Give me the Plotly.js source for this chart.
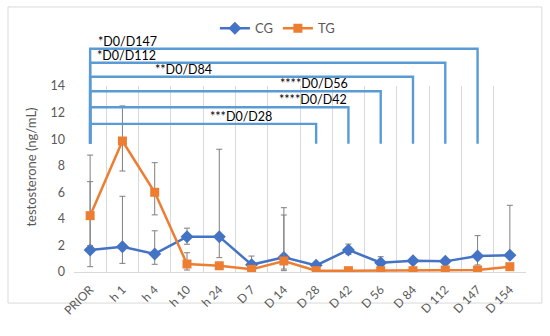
<!DOCTYPE html>
<html>
<head>
<meta charset="utf-8">
<script src="https://cdn.plot.ly/plotly-3.0.1.min.js"></script>
<style>html,body{margin:0;padding:0;background:#fff;}#chart{width:550px;height:336px;}</style>
</head>
<body>
<div id="chart"></div>
<script>
// ---- data ----
const categories = ["PRIOR","h 1","h 4","h 10","h 24","D 7","D 14","D 28","D 42","D 56","D 84","D 112","D 147","D 154"];
const cgValues = [1.66,1.9,1.36,2.66,2.66,0.55,1.1,0.5,1.66,0.7,0.85,0.8,1.2,1.27];
const tgValues = [4.24,9.86,6.0,0.6,0.47,0.2,0.83,0.1,0.1,0.1,0.1,0.15,0.15,0.4];
// error bar end points (upper / lower)
const cgUpper = [6.8,5.7,3.1,3.3,9.24,1.2,4.84,0.5,2.1,1.15,0.85,0.8,2.74,5.02];
const cgLower = [0.4,0.65,0.58,2.09,1.08,0.55,0.22,0.5,1.33,0.7,0.85,0.8,0.53,1.27];
const tgUpper = [8.8,12.5,8.23,1.45,0.47,0.2,4.29,0.1,0.1,0.1,0.1,0.15,0.15,0.4];
const tgLower = [2.0,7.6,4.3,0.15,0.47,0.2,0.1,0.1,0.1,0.1,0.1,0.15,0.15,0.4];
// significance brackets
const bracketFrom = "PRIOR";
const bracketTargets = ["D 147","D 112","D 84","D 56","D 42","D 28"];
const bracketLabels = ["*D0/D147","*D0/D112","**D0/D84","****D0/D56","****D0/D42","***D0/D28"];
const bracketHeights = [16.8,15.75,14.7,13.6,12.4,11.15];
const bracketBase = 9.65;
const labelX = [0.119,0.117,0.243,0.531,0.529,0.369];

const yMax = 14;
const blue = "#4472C4", orange = "#ED7D31", bracketColor = "#5B9BD5";
const font = "Lato, 'Open Sans', sans-serif";

function diff(a,b){return a.map((v,i)=>Math.max(0,+(v-b[i]).toFixed(3)));}
function catX(c){return (categories.indexOf(c)+0.5)/categories.length;}

const errStyle = {type:"data",symmetric:false,color:"#7f7f7f",thickness:1,width:3};

const traces = [
  {x:categories,y:cgValues,name:"CG",type:"scatter",mode:"lines+markers",
   line:{color:blue,width:2.5},marker:{symbol:"diamond",size:10,color:blue},
   error_y:Object.assign({array:diff(cgUpper,cgValues),arrayminus:diff(cgValues,cgLower)},errStyle)},
  {x:categories,y:tgValues,name:"TG",type:"scatter",mode:"lines+markers",
   line:{color:orange,width:2.5},marker:{symbol:"square",size:9,color:orange},
   error_y:Object.assign({array:diff(tgUpper,tgValues),arrayminus:diff(tgValues,tgLower)},errStyle)}
];

const shapes = [];
const annotations = [];
// outer frame
shapes.push({type:"rect",xref:"paper",yref:"paper",x0:-0.146,x1:1.035,y0:-0.167,y1:1.425,
  line:{color:"#d9d9d9",width:1},layer:"below"});
bracketTargets.forEach((t,i)=>{
  const x0 = catX(bracketFrom), x1 = catX(t);
  const yb = bracketBase/yMax, yt = bracketHeights[i]/yMax;
  shapes.push({type:"path",xref:"paper",yref:"paper",
    path:`M ${x0} ${yb} L ${x0} ${yt} L ${x1} ${yt} L ${x1} ${yb}`,
    line:{color:bracketColor,width:2.4}});
  annotations.push({xref:"paper",yref:"paper",x:labelX[i],y:yt,yanchor:"bottom",xanchor:"center",
    yshift:-2,text:bracketLabels[i],showarrow:false,font:{family:font,size:12.5,color:"#000"}});
});
annotations.push({xref:"paper",yref:"paper",x:-0.118,y:0.565,textangle:-90,showarrow:false,
  text:"testosterone (ng/mL)",font:{family:font,size:13,color:"#595959"}});

const layout = {
  width:550,height:336,
  margin:{l:74,r:24,t:86,b:64},
  paper_bgcolor:"#fff",plot_bgcolor:"#fff",
  font:{family:font,color:"#595959",size:12},
  showlegend:true,
  legend:{orientation:"h",x:0.45,xanchor:"center",y:1.31,yanchor:"middle",
    font:{family:font,size:13,color:"#595959"},itemwidth:30,tracegroupgap:0},
  xaxis:{type:"category",tickangle:-45,tickson:"boundaries",showgrid:true,gridcolor:"#d9d9d9",
    showline:true,linecolor:"#d9d9d9",ticks:"",ticklabelstandoff:5,
    tickfont:{family:font,size:12,color:"#595959"},
    range:[-0.5,categories.length-0.5],zeroline:false},
  yaxis:{range:[0,yMax],dtick:2,showgrid:false,zeroline:false,showline:false,ticks:"",
    ticklabelstandoff:8,tickfont:{family:font,size:12.5,color:"#595959"}},
  shapes:shapes,annotations:annotations
};
Plotly.newPlot("chart",traces,layout,{displayModeBar:false,staticPlot:true});
</script>
</body>
</html>
